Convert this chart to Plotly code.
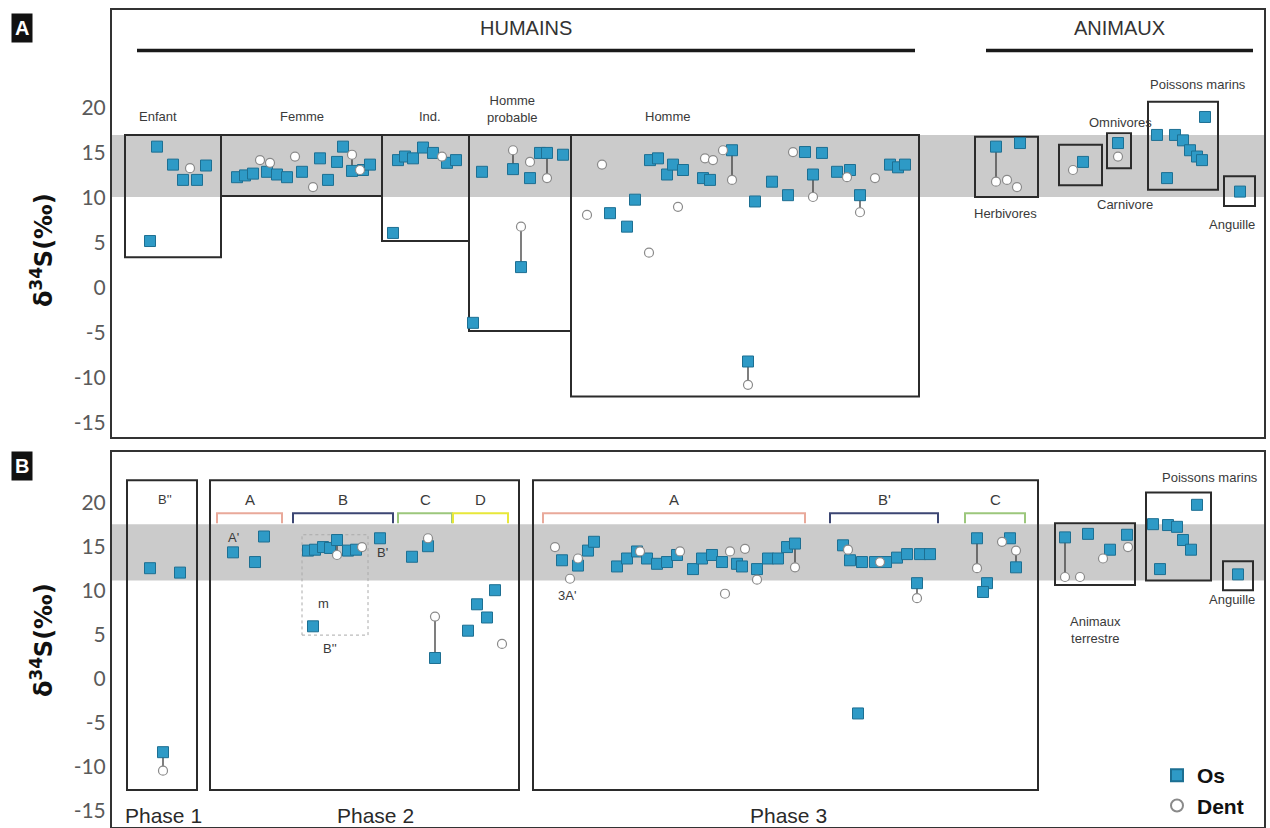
import plotly.graph_objects as go

# ---------------- Panel A data (slot position along x, delta34S value) ----------------
A_os_x = [157, 173, 183, 197, 206, 150,
          237, 245, 253, 267, 277, 287, 302, 320, 328, 337, 343, 363, 370,
          393, 398, 405, 413, 423, 433, 447, 456,
          482, 530, 540, 563, 473,
          650, 658, 667, 673, 683, 703, 710, 635, 610, 627, 755, 772, 788, 805, 822, 837, 850, 890, 898, 905,
          1020, 1083, 1118, 1157, 1175, 1183, 1190, 1197, 1202, 1205, 1167, 1240]
A_os_y = [15.7, 13.7, 12.0, 12.0, 13.6, 5.2,
          12.3, 12.5, 12.7, 12.9, 12.6, 12.3, 12.9, 14.4, 12.0, 14.0, 15.7, 13.1, 13.7,
          6.1, 14.2, 14.6, 14.4, 15.6, 15.0, 13.9, 14.2,
          12.9, 12.2, 15.0, 14.8, -3.9,
          14.2, 14.4, 12.6, 13.7, 13.1, 12.2, 12.0, 9.8, 8.3, 6.8, 9.6, 11.8, 10.3, 15.1, 15.0, 12.9, 13.1, 13.7, 13.4, 13.7,
          16.1, 14.0, 16.1, 17.0, 17.0, 16.4, 15.3, 14.6, 14.2, 19.0, 12.2, 10.7]
A_dent_x = [190, 260, 270, 295, 313, 360, 442, 530, 602, 587, 678, 649, 705, 713, 723, 793, 847, 875,
            1007, 1017, 1073, 1118]
A_dent_y = [13.3, 14.2, 13.9, 14.6, 11.2, 13.1, 14.6, 14.0, 13.7, 8.1, 9.0, 3.9, 14.4, 14.2, 15.3, 15.1, 12.3, 12.2,
            12.0, 11.2, 13.1, 14.6]
A_pair_x = [352, 513, 547, 521, 732, 813, 860, 748, 996]
A_pair_os = [13.0, 13.2, 15.0, 2.3, 15.3, 12.6, 10.3, -8.2, 15.7]
A_pair_dent = [14.8, 15.3, 12.2, 6.8, 12.0, 10.1, 8.4, -10.8, 11.8]

A_box_x0 = [125, 221, 382, 469, 571, 975, 1059, 1107, 1148, 1224]
A_box_x1 = [221, 382, 469, 571, 919, 1038, 1102, 1131, 1218, 1255]
A_box_top = [17.0, 17.0, 17.0, 17.0, 17.0, 16.8, 15.9, 17.2, 20.7, 12.4]
A_box_bot = [3.4, 10.2, 5.2, -4.8, -12.1, 10.1, 11.4, 13.3, 10.9, 9.1]
A_band = [10.1, 17.0]

A_labels = ["Enfant", "Femme", "Ind.", "Homme<br>probable", "Homme",
            "Herbivores", "Omnivores", "Carnivore", "Poissons marins", "Anguille"]
A_label_x = [158, 302, 430, 512, 668, 1005, 1120, 1125, 1198, 1232]
A_label_y = [19.0, 19.0, 19.0, 19.9, 19.0, 8.3, 18.4, 9.3, 22.6, 7.0]

A_headers = ["HUMAINS", "ANIMAUX"]
A_header_x0 = [137, 986]
A_header_x1 = [915, 1253]
A_header_line_y = 26.4
A_header_text_y = 28.9

# ---------------- Panel B data ----------------
B_os_x = [150, 180,
          233, 255, 264,
          308, 315, 323, 330, 348, 356, 380, 313,
          412, 428,
          495, 477, 487, 468,
          562, 578, 588, 594, 617, 627, 637, 647, 657, 667, 677, 693, 702, 712, 722, 737, 742, 768, 778, 787,
          843, 850, 862, 875, 886, 897, 907, 920, 930, 858,
          1010, 987, 983,
          1088, 1127, 1110,
          1153, 1168, 1177, 1183, 1191, 1197, 1160,
          1238]
B_os_y = [12.5, 12.0,
          14.3, 13.2, 16.1,
          14.5, 14.6, 14.9, 14.8, 14.5, 14.6, 15.9, 5.9,
          13.8, 15.0,
          10.0, 8.4, 6.9, 5.4,
          13.4, 12.8, 14.5, 15.5, 12.7, 13.6, 14.4, 13.6, 13.0, 13.2, 14.0, 12.4, 13.6, 14.0, 13.2, 13.0, 12.7, 13.6, 13.6, 14.9,
          15.1, 13.4, 13.2, 13.2, 13.2, 13.7, 14.1, 14.1, 14.1, -4.0,
          15.9, 10.8, 9.8,
          16.4, 16.3, 14.6,
          17.5, 17.4, 17.2, 15.7, 14.6, 19.7, 12.4,
          11.8]
B_dent_x = [362, 428, 502, 555, 570, 578, 640, 680, 725, 730, 745, 848, 880, 1002, 1080, 1103, 1128]
B_dent_y = [14.9, 15.9, 3.9, 14.9, 11.3, 13.6, 14.4, 14.4, 9.6, 14.4, 14.7, 14.6, 13.2, 15.5, 11.5, 13.6, 14.9]
B_pair_x = [163, 337, 435, 757, 795, 917, 977, 1016, 1065]
B_pair_os = [-8.4, 15.7, 2.3, 12.4, 15.3, 10.8, 15.9, 12.6, 16.0]
B_pair_dent = [-10.5, 14.0, 7.0, 11.2, 12.6, 9.1, 12.5, 14.5, 11.5]

B_box_x0 = [127, 210, 533, 1055, 1146, 1223]
B_box_x1 = [197, 519, 1038, 1135, 1211, 1253]
B_box_top = [22.5, 22.5, 22.5, 17.6, 21.1, 13.3]
B_box_bot = [-12.7, -12.7, -12.7, 10.6, 11.1, 10.0]
B_band = [11.1, 17.5]
B_dashed_box = [302, 368, 4.9, 16.3]

B_brackets = ["A", "B", "C", "D", "A", "B'", "C"]
B_bracket_x0 = [217, 293, 398, 453, 543, 830, 965]
B_bracket_x1 = [282, 393, 452, 508, 805, 938, 1025]
B_bracket_color = ["#e9a99a", "#3c4673", "#9cc77c", "#e8e83a", "#e9a99a", "#3c4673", "#9cc77c"]
B_bracket_y = 18.75
B_bracket_foot = 17.6
B_bracket_label_y = 20.3

B_labels = ["B''", "A'", "B'", "m", "B''", "3A'", "Animaux<br>terrestre", "Poissons marins", "Anguille"]
B_label_x = [165, 233, 382, 323, 330, 567, 1095, 1210, 1232]
B_label_y = [20.3, 16.0, 14.3, 8.5, 3.4, 9.4, 5.5, 22.8, 8.9]

B_phases = ["Phase 1", "Phase 2", "Phase 3"]
B_phase_x = [163, 375, 788]
B_phase_y = -15.6

y_ticks = [-15, -10, -5, 0, 5, 10, 15, 20]
y_ticklabels = ["-15", "-10", "-5", "0", "5", "10", "15", "20"]

# ---------------- styling ----------------
OS_FILL = "#2e9ac6"
OS_EDGE = "#1d6f92"
DENT_EDGE = "#8a8a8a"
BOX_COLOR = "#2b2b2b"
BAND_COLOR = "#cbcbcb"
LABEL_FONT = dict(family="Liberation Sans, Arial, sans-serif", size=13, color="#3a3a3a")

fig = go.Figure()


def links(xs, y1, y2):
    lx, ly = [], []
    for x, a, b in zip(xs, y1, y2):
        lx += [x, x, None]
        ly += [a, b, None]
    return lx, ly


def add_panel(os_x, os_y, dent_x, dent_y, px, pos, pdent, xa, ya, legend):
    lx, ly = links(px, pos, pdent)
    fig.add_trace(go.Scatter(x=lx, y=ly, mode="lines", line=dict(color="#3a3a3a", width=1.3),
                             xaxis=xa, yaxis=ya, showlegend=False, hoverinfo="skip"))
    fig.add_trace(go.Scatter(x=list(os_x) + list(px), y=list(os_y) + list(pos), mode="markers",
                             name="<b>Os</b>", showlegend=legend,
                             marker=dict(symbol="square", size=11, color=OS_FILL,
                                         line=dict(color=OS_EDGE, width=1)),
                             xaxis=xa, yaxis=ya))
    fig.add_trace(go.Scatter(x=list(dent_x) + list(px), y=list(dent_y) + list(pdent), mode="markers",
                             name="<b>Dent</b>", showlegend=legend,
                             marker=dict(symbol="circle", size=9, color="white",
                                         line=dict(color=DENT_EDGE, width=1.2)),
                             xaxis=xa, yaxis=ya))


add_panel(A_os_x, A_os_y, A_dent_x, A_dent_y, A_pair_x, A_pair_os, A_pair_dent, "x", "y", False)
add_panel(B_os_x, B_os_y, B_dent_x, B_dent_y, B_pair_x, B_pair_os, B_pair_dent, "x2", "y2", True)

shapes = []
annotations = []

# bands
shapes.append(dict(type="rect", xref="x domain", yref="y", x0=0, x1=1, y0=A_band[0], y1=A_band[1],
                   fillcolor=BAND_COLOR, line=dict(width=0), layer="below"))
shapes.append(dict(type="rect", xref="x2 domain", yref="y2", x0=0, x1=1, y0=B_band[0], y1=B_band[1],
                   fillcolor=BAND_COLOR, line=dict(width=0), layer="below"))

# group boxes
for x0, x1, t, b in zip(A_box_x0, A_box_x1, A_box_top, A_box_bot):
    shapes.append(dict(type="rect", xref="x", yref="y", x0=x0, x1=x1, y0=b, y1=t,
                       line=dict(color=BOX_COLOR, width=2), fillcolor="rgba(0,0,0,0)", layer="below"))
for x0, x1, t, b in zip(B_box_x0, B_box_x1, B_box_top, B_box_bot):
    shapes.append(dict(type="rect", xref="x2", yref="y2", x0=x0, x1=x1, y0=b, y1=t,
                       line=dict(color=BOX_COLOR, width=2), fillcolor="rgba(0,0,0,0)", layer="below"))
shapes.append(dict(type="rect", xref="x2", yref="y2", x0=B_dashed_box[0], x1=B_dashed_box[1],
                   y0=B_dashed_box[2], y1=B_dashed_box[3],
                   line=dict(color="#aaaaaa", width=1, dash="dot"), layer="below"))

# headers
for name, x0, x1 in zip(A_headers, A_header_x0, A_header_x1):
    shapes.append(dict(type="line", xref="x", yref="y", x0=x0, x1=x1, y0=A_header_line_y, y1=A_header_line_y,
                       line=dict(color="#1a1a1a", width=3.5)))
    annotations.append(dict(x=(x0 + x1) / 2, y=A_header_text_y, xref="x", yref="y", text=name, showarrow=False,
                            font=dict(family="Liberation Sans, Arial, sans-serif", size=20, color="#333333")))

for t, x, y in zip(A_labels, A_label_x, A_label_y):
    annotations.append(dict(x=x, y=y, xref="x", yref="y", text=t, showarrow=False, font=LABEL_FONT))

# brackets
for name, x0, x1, c in zip(B_brackets, B_bracket_x0, B_bracket_x1, B_bracket_color):
    shapes.append(dict(type="path", xref="x2", yref="y2",
                       path=f"M {x0},{B_bracket_foot} L {x0},{B_bracket_y} L {x1},{B_bracket_y} L {x1},{B_bracket_foot}",
                       line=dict(color=c, width=2)))
    annotations.append(dict(x=(x0 + x1) / 2, y=B_bracket_label_y, xref="x2", yref="y2", text=name,
                            showarrow=False, font=dict(family="Liberation Sans, Arial, sans-serif", size=15,
                                                       color="#3a3a3a")))

for t, x, y in zip(B_labels, B_label_x, B_label_y):
    annotations.append(dict(x=x, y=y, xref="x2", yref="y2", text=t, showarrow=False, font=LABEL_FONT))

for t, x in zip(B_phases, B_phase_x):
    annotations.append(dict(x=x, y=B_phase_y, xref="x2", yref="y2", text=t, showarrow=False,
                            font=dict(family="Liberation Sans, Arial, sans-serif", size=21, color="#2a2a2a")))

# panel letters
for letter, ypx in (("A", 28), ("B", 466)):
    annotations.append(dict(x=22 / 1270, y=1 - ypx / 828, xref="paper", yref="paper", text=f"<b>{letter}</b>",
                            xanchor="center", yanchor="middle",
                            showarrow=False, bgcolor="#111111", borderpad=3,
                            font=dict(family="Liberation Sans, Arial, sans-serif", size=20, color="white")))

# y titles
for ypx in (250, 640):
    annotations.append(dict(x=42 / 1270, y=1 - ypx / 828, xref="paper", yref="paper",
                            xanchor="center", yanchor="middle",
                            text="<b>δ<sup>34</sup>S(‰)</b>", textangle=-90, showarrow=False,
                            font=dict(family="DejaVu Sans, sans-serif", size=24, color="#111111")))

xdom = [112 / 1270, 1264 / 1270]
axis_common = dict(showline=True, mirror=True, linecolor="#333333", linewidth=2, showgrid=False,
                   zeroline=False)

fig.update_layout(
    width=1270, height=828,
    margin=dict(l=0, r=0, t=0, b=0),
    paper_bgcolor="white", plot_bgcolor="white",
    shapes=shapes, annotations=annotations,
    xaxis=dict(domain=xdom, range=[112, 1264], anchor="y", showticklabels=False, ticks="", **axis_common),
    yaxis=dict(domain=[1 - 437 / 828, 1 - 10 / 828], range=[-16.6, 30.9], anchor="x",
               tickvals=y_ticks, ticktext=y_ticklabels, ticks="",
               tickfont=dict(family="Lato, sans-serif", size=21, color="#5a5a5a"), **axis_common),
    xaxis2=dict(domain=xdom, range=[112, 1264], anchor="y2", showticklabels=False, ticks="", **axis_common),
    yaxis2=dict(domain=[1 / 828, 1 - 452 / 828], range=[-16.9, 25.7], anchor="x2",
                tickvals=y_ticks, ticktext=y_ticklabels, ticks="",
                tickfont=dict(family="Lato, sans-serif", size=21, color="#5a5a5a"), **axis_common),
    legend=dict(x=1157 / 1270, y=2 / 828, xanchor="left", yanchor="bottom", bgcolor="rgba(0,0,0,0)",
                font=dict(family="Liberation Sans, Arial, sans-serif", size=21, color="#111111"),
                itemwidth=30, tracegroupgap=0, itemsizing="constant"),
    showlegend=True,
)

fig.write_html("out.html", config={"displayModeBar": False},
               post_script="document.body.style.margin='0';document.body.style.overflow='hidden';")
